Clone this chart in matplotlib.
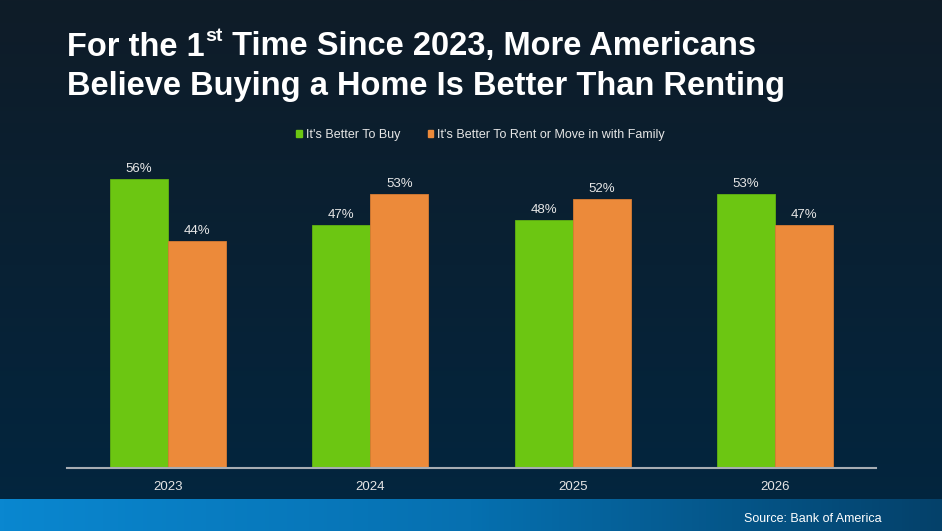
import numpy as np
import matplotlib.pyplot as plt
from matplotlib.patches import Patch
from matplotlib.colors import LinearSegmentedColormap

plt.rcParams['font.family'] = ['Liberation Sans', 'DejaVu Sans']

# data
years = ['2023', '2024', '2025', '2026']
buy = [56, 47, 48, 53]
rent = [44, 53, 52, 47]
buy_label = "It's Better To Buy"
rent_label = "It's Better To Rent or Move in with Family"

green = '#6cc612'
orange = '#ec8a3a'

fig = plt.figure(figsize=(9.42, 5.31), dpi=100)

# background gradient
bg = fig.add_axes([0, 0, 1, 1], zorder=0)
bg.axis('off')
bg_cmap = LinearSegmentedColormap.from_list('bg', ['#0f1c28', '#022640'])
grad = np.linspace(0, 1, 256).reshape(-1, 1)
bg.imshow(grad, cmap=bg_cmap, aspect='auto', extent=[0, 1, 0, 1])

# blue band at the bottom
band = fig.add_axes([0, 0, 1, 32 / 531], zorder=1)
band.axis('off')
band_cmap = LinearSegmentedColormap.from_list('band', ['#0a87d0', '#0670b0', '#04416a'])
hgrad = np.linspace(0, 1, 256).reshape(1, -1)
band.imshow(hgrad, cmap=band_cmap, aspect='auto', extent=[0, 1, 0, 1])
fig.text(882 / 942, 1 - 519 / 531, 'Source: Bank of America', color='white',
         fontsize=9, ha='right', va='center', zorder=3)

# chart
ax = fig.add_axes([67 / 942, 63 / 531, 809 / 942, 310 / 531], zorder=2)
ax.patch.set_alpha(0)
x = np.arange(len(years))
w = 0.287
b1 = ax.bar(x - w / 2, buy, w, color=green, edgecolor='#62b212', linewidth=0.6)
b2 = ax.bar(x + w / 2, rent, w, color=orange, edgecolor='#d87c33', linewidth=0.6)
for bars in (b1, b2):
    for r in bars:
        ax.text(r.get_x() + r.get_width() / 2, r.get_height() + 0.8,
                f'{r.get_height():.0f}%', ha='center', va='bottom',
                color='#e6e6e6', fontsize=9.5)

ax.set_xlim(-0.5, 3.5)
ax.set_ylim(0, 60)
ax.set_xticks(x)
ax.set_xticklabels(years, color='#e6e6e6', fontsize=9.5)
ax.tick_params(axis='x', length=0, pad=9)
ax.set_yticks([])
for s in ['top', 'right', 'left']:
    ax.spines[s].set_visible(False)
ax.spines['bottom'].set_color('#a7adb3')
ax.spines['bottom'].set_linewidth(1.5)

# legend
handles = [Patch(color=green, label=buy_label), Patch(color=orange, label=rent_label)]
fig.legend(handles=handles, loc='center', bbox_to_anchor=(0.51, 1 - 135 / 531),
           ncol=2, frameon=False, fontsize=9, labelcolor='#e6e6e6',
           handlelength=0.45, handleheight=0.45, handletextpad=0.3, columnspacing=2.2)

# title with superscript
ty1 = 1 - 47 / 531
ty2 = 1 - 86 / 531
tx = 67 / 942
tkw = dict(color='white', fontsize=23.5, fontweight='bold', va='center', zorder=3)
fig.canvas.draw()
r = fig.canvas.get_renderer()
t1 = fig.text(tx, ty1, 'For the 1', **tkw)
bb = t1.get_window_extent(r)
t2 = fig.text(bb.x1 / 942 + 0.001, ty1 + 0.019, 'st', color='white', fontsize=14,
              fontweight='bold', va='center', zorder=3)
bb2 = t2.get_window_extent(r)
fig.text(bb2.x1 / 942, ty1, ' Time Since 2023, More Americans', **tkw)
fig.text(tx, ty2, 'Believe Buying a Home Is Better Than Renting', **tkw)

fig.savefig('out.png', dpi=100)
